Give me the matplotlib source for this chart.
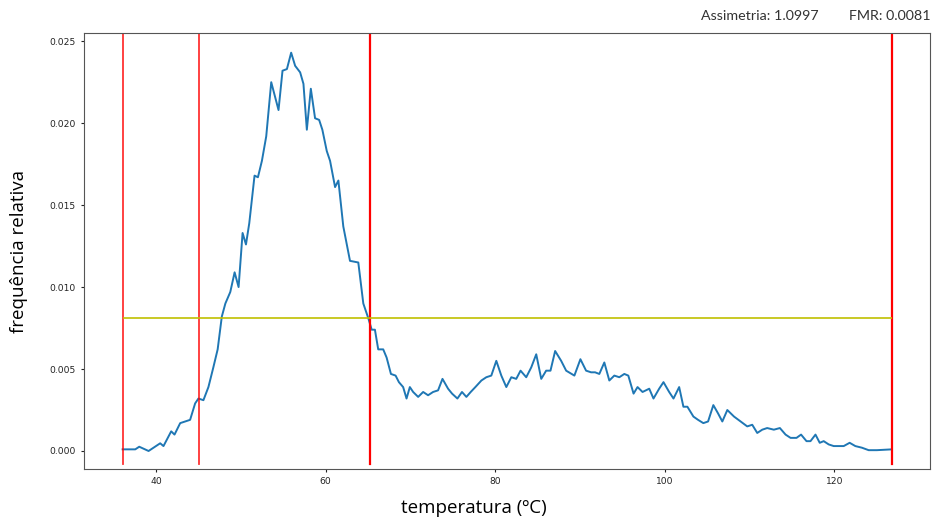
import numpy as np
import matplotlib
matplotlib.use("Agg")
from matplotlib import pyplot as plt

# temperature (ºC) and relative frequency
temperatura = [
    36.06, 37.55, 38.02, 39.12, 40.49, 40.88, 41.79, 42.18, 42.85, 43.44,
    44.02, 44.61, 45.0, 45.59, 46.18, 46.76, 47.27, 47.76, 48.18, 48.76,
    49.27, 49.74, 50.21, 50.61, 51.0, 51.62, 52.02, 52.49, 53.0, 53.59,
    54.45, 54.92, 55.44, 55.94, 56.41, 57.0, 57.39, 57.79, 58.26, 58.76,
    59.24, 59.62, 60.14, 60.53, 61.12, 61.51, 62.09, 62.88, 63.86, 64.45,
    65.04, 65.44, 65.82, 66.21, 66.8, 67.2, 67.71, 68.26, 68.65, 69.15,
    69.55, 69.94, 70.33, 70.92, 71.51, 72.09, 72.68, 73.27, 73.79, 74.45,
    74.92, 75.55, 76.09, 76.61, 77.12, 77.67, 78.38, 78.96, 79.55, 80.14,
    80.73, 81.32, 81.91, 82.49, 83.0, 83.67, 84.26, 84.85, 85.44, 86.02,
    86.53, 87.08, 87.79, 88.38, 89.35, 90.06, 90.73, 91.32, 91.79, 92.29,
    92.88, 93.47, 94.06, 94.65, 95.24, 95.71, 96.33, 96.8, 97.39, 98.18,
    98.68, 99.35, 99.86, 100.53, 101.04, 101.71, 102.21, 102.68, 103.39, 103.94,
    104.56, 105.12, 105.74, 106.29, 106.8, 107.39, 108.18, 108.96, 109.74, 110.33,
    110.92, 111.51, 112.09, 112.88, 113.59, 114.26, 114.85, 115.55, 116.09, 116.73,
    117.2, 117.79, 118.29, 118.76, 119.35, 119.94, 121.12, 121.82, 122.49, 123.27,
    124.06, 125.04, 126.8,
]
frequencia = [
    0.0001, 0.0001, 0.00026, 0.0, 0.00047, 0.0003, 0.0012, 0.0010, 0.0017, 0.0018,
    0.0019, 0.0029, 0.0032, 0.0031, 0.0039, 0.0051, 0.0062, 0.0082, 0.0090, 0.0097,
    0.0109, 0.0100, 0.0133, 0.0126, 0.0139, 0.0168, 0.0167, 0.0177, 0.0192, 0.0225,
    0.0208, 0.0232, 0.0233, 0.0243, 0.0235, 0.0231, 0.0224, 0.0196, 0.0221, 0.0203,
    0.0202, 0.0196, 0.0183, 0.0177, 0.0161, 0.0165, 0.0137, 0.0116, 0.0115, 0.0090,
    0.0081, 0.0074, 0.0074, 0.0062, 0.0062, 0.0057, 0.0047, 0.0046, 0.0042, 0.0039,
    0.0032, 0.0039, 0.0036, 0.0033, 0.0036, 0.0034, 0.0036, 0.0037, 0.0044, 0.0038,
    0.0035, 0.0032, 0.0036, 0.0033, 0.0036, 0.0039, 0.0043, 0.0045, 0.0046, 0.0055,
    0.0046, 0.0039, 0.0045, 0.0044, 0.0049, 0.0045, 0.0051, 0.0059, 0.0044, 0.0049,
    0.0049, 0.0061, 0.0055, 0.0049, 0.0046, 0.0056, 0.0049, 0.0048, 0.0048, 0.0047,
    0.0054, 0.0043, 0.0046, 0.0045, 0.0047, 0.0046, 0.0035, 0.0039, 0.0036, 0.0038,
    0.0032, 0.0038, 0.0042, 0.0036, 0.0032, 0.0039, 0.0027, 0.0027, 0.0021, 0.0019,
    0.0017, 0.0018, 0.0028, 0.0023, 0.0018, 0.0025, 0.0021, 0.0018, 0.0015, 0.0016,
    0.0011, 0.0013, 0.0014, 0.0013, 0.0014, 0.0010, 0.0008, 0.0008, 0.0010, 0.0006,
    0.0006, 0.0010, 0.0005, 0.0006, 0.0004, 0.0003, 0.0003, 0.0005, 0.0003, 0.0002,
    0.00005, 0.00005, 0.0001,
]

limites = [36.06, 45.1, 65.2, 126.8]   # red vertical lines
fmr = 0.0081
assimetria = 1.0997

fig = plt.figure(figsize=(9.33, 5.19), dpi=100)
ax = fig.add_axes([0.090, 0.0963, 0.9068, 0.8401])

ax.plot(temperatura, frequencia, color="#1f77b4", lw=1.4)

# limits
for i, x in enumerate(limites):
    ax.axvline(x, ymin=0.012, ymax=1, color="red", lw=1.3 if i < 2 else 1.6,
               alpha=0.8 if i < 2 else 1)
ax.hlines(fmr, limites[0], limites[-1], color="#c0c000", lw=1.2)

ax.set_xlim(31.5, 131.3)
ax.set_ylim(-0.0011, 0.0255)
ax.set_xticks([40, 60, 80, 100, 120])
ax.set_yticks([0.0, 0.005, 0.010, 0.015, 0.020, 0.025])
ax.set_yticklabels(["0.000", "0.005", "0.010", "0.015", "0.020", "0.025"])
ax.tick_params(labelsize=6.6, length=2.5, width=0.8, colors="#222222")
for s in ax.spines.values():
    s.set_color("#555555")
    s.set_linewidth(0.8)

ax.set_xlabel("temperatura (ºC)", fontsize=13.5, family="Open Sans")
ax.set_ylabel("frequência relativa", fontsize=13.5, family="Open Sans")
ax.xaxis.set_label_coords(0.461, -0.068)
ax.yaxis.set_label_coords(-0.066, 0.5)

fig.text(0.997, 0.969, "FMR: %.4f" % fmr,
         ha="right", va="center", fontsize=10.3, family="Lato", color="#333333")
fig.text(0.877, 0.969, "Assimetria: %.4f" % assimetria,
         ha="right", va="center", fontsize=10.3, family="Lato", color="#333333")

plt.savefig("out.png", dpi=100)
